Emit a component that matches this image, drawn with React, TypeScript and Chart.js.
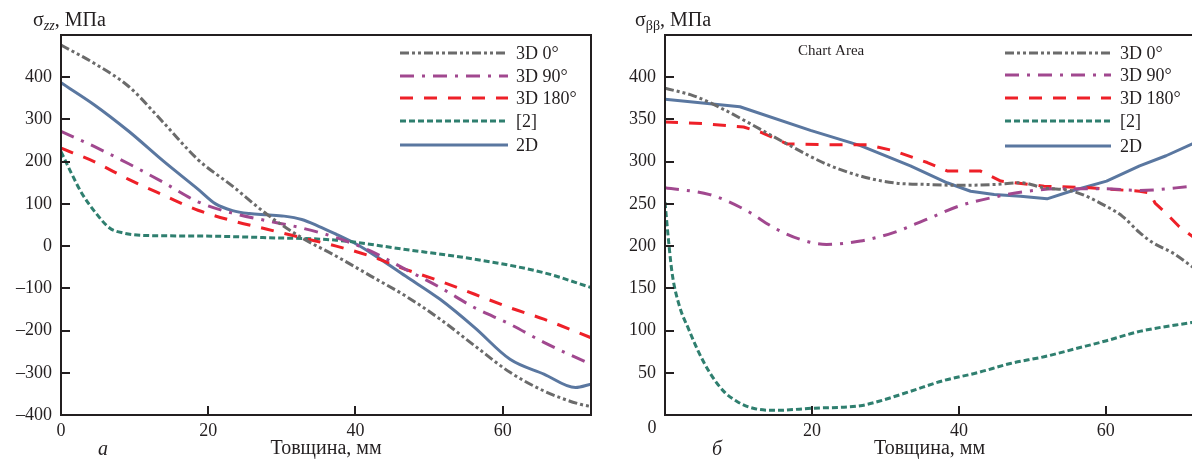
import React, { useEffect, useRef } from "react";
import { Chart, registerables } from "chart.js";

Chart.register(...registerables);

const FONT = '"Liberation Serif", "Times New Roman", serif';
const INK = "#231f20";

// ---- series meta ----
const SERIES_NAMES = ["3D 0°", "3D 90°", "3D 180°", "[2]", "2D"];
const SERIES_COLORS = ["#6b6b6b", "#a1488f", "#ee2028", "#2f7f6f", "#5a77a0"];
const SERIES_DASHES = [[9, 3, 3, 3, 3, 3], [14, 8, 3, 8], [13, 11], [6, 3], []];

// ---- chart а: σzz ----
const zz0X = [0, 4.5, 9.2, 14, 18.6, 23.3, 28, 32.7, 37.4, 42.1, 46.8, 51.5, 56.2, 61, 65.6, 70.4, 72];
const zz0Y = [476, 433, 378, 291, 205, 142, 75, 20, -24, -71, -118, -173, -236, -299, -343, -374, -380];
const zz90X = [0, 4.5, 9.2, 14, 18.6, 23.3, 28, 32.7, 37.4, 42.1, 46.8, 51.5, 56.2, 61, 65.6, 72];
const zz90Y = [272, 236, 195, 150, 105, 78, 60, 43, 20, -12, -55, -98, -146, -185, -228, -280];
const zz180X = [0, 4.5, 9.2, 14, 18.6, 23.3, 28, 32.7, 37.4, 42.1, 46.8, 51.5, 56.2, 61, 65.6, 72];
const zz180Y = [232, 200, 158, 120, 85, 60, 40, 20, 0, -24, -55, -83, -114, -146, -173, -217];
const zzRefX = [0, 1.4, 2.8, 4.7, 6.6, 8.5, 11.8, 18.6, 28, 37.4, 46.8, 56.2, 65.6, 72];
const zzRefY = [224, 173, 126, 79, 43, 31, 25, 24, 20, 14, -8, -31, -63, -98];
const zz2dX = [0, 4.5, 9.2, 14, 18.6, 21, 23.3, 25.6, 28, 30.3, 32.7, 35, 37.4, 39.8, 42.1, 46.8, 51.5, 56.2, 61, 65.6, 69.9, 72];
const zz2dY = [387, 335, 272, 200, 135, 100, 84, 77, 74, 71, 63, 47, 28, 8, -16, -71, -126, -193, -268, -303, -335, -327];

const zzXTicks = [0, 20, 40, 60];
const zzYMin = -400;
const zzYMax = 500;

// ---- chart б: σββ ----
const bb0X = [0, 3.9, 7.5, 11.6, 16.6, 22, 26.6, 31.1, 35.7, 40.2, 44.8, 48.4, 51.6, 55.5, 60.1, 62.3, 64.6, 66.4, 69.1, 72];
const bb0Y = [387, 378, 364, 345, 321, 297, 283, 275, 273, 272, 273, 275, 269, 265, 247, 235, 216, 204, 192, 174];
const bb90X = [0, 6.1, 10.7, 15.2, 18.4, 22, 26.6, 31.1, 35.7, 40.2, 44.8, 49.3, 53.9, 59.3, 64.6, 72];
const bb90Y = [269, 261, 244, 220, 208, 202, 206, 216, 232, 248, 258, 265, 268, 268, 266, 271];
const bb180X = [0, 5.2, 10.7, 13, 16.6, 22, 27.5, 31.1, 35.7, 38.4, 42.9, 45.7, 51.6, 57.8, 64.6, 66, 66.7, 68.2, 70, 72];
const bb180Y = [347, 345, 341, 335, 321, 320, 320, 313, 299, 289, 289, 277, 271, 269, 265, 263, 251, 239, 223, 210];
const bbRefX = [0, 0.5, 1, 2, 3.2, 4.5, 6.1, 8, 9.8, 12, 15, 20, 26.6, 29, 33.4, 38, 42.5, 47, 51.6, 56.1, 60.1, 64.6, 72];
const bbRefY = [252, 205, 166, 128, 102, 76, 50, 28, 16, 8, 5.5, 8, 11, 16, 28, 41, 50, 61, 69, 79, 88, 99, 110];
const bb2dX = [0, 10.2, 19.8, 26.6, 33.4, 38.4, 41.6, 44.8, 48.4, 52, 55.2, 60.1, 64.6, 68.2, 72];
const bb2dY = [374, 365, 337, 319, 295, 275, 265, 261, 259, 256, 265, 277, 295, 307, 322];

const bbXTicks = [0, 20, 40, 60];
const bbYMin = 0;
const bbYMax = 450;

const X_MIN = 0;
const X_MAX = 72;

function pts(xs: number[], ys: number[]) {
  return xs.map((x, i) => ({ x, y: ys[i] }));
}

function fmt(v: number) {
  return v < 0 ? "–" + Math.abs(v) : String(v);
}

type Deco = {
  legendX1: number;
  legendX2: number;
  legendTextX: number;
  legendRows: number[];
  titleX: number;
  titleSub: string;
  subItalic: boolean;
  letter: string;
  letterX: number;
  note?: { text: string; x: number; y: number };
  zeroLabelX?: number;
};

function makeDecoPlugin(d: Deco) {
  return {
    id: "deco",
    afterDraw(chart: any) {
      const ctx: CanvasRenderingContext2D = chart.ctx;
      const a = chart.chartArea;
      const xs = chart.scales.x;
      const ys = chart.scales.y;
      ctx.save();
      // inner tick marks
      ctx.strokeStyle = INK;
      ctx.lineWidth = 2;
      ctx.setLineDash([]);
      ys.ticks.forEach((t: any) => {
        if (t.value <= ys.min || t.value >= ys.max) return;
        const y = Math.round(ys.getPixelForValue(t.value));
        ctx.beginPath();
        ctx.moveTo(a.left, y);
        ctx.lineTo(a.left + 9, y);
        ctx.stroke();
      });
      xs.ticks.forEach((t: any) => {
        if (t.value <= xs.min || t.value >= xs.max) return;
        const x = Math.round(xs.getPixelForValue(t.value));
        ctx.beginPath();
        ctx.moveTo(x, a.bottom);
        ctx.lineTo(x, a.bottom - 9);
        ctx.stroke();
      });
      // frame
      ctx.strokeRect(a.left, a.top, a.right - a.left, a.bottom - a.top);

      // legend
      ctx.font = `18px ${FONT}`;
      ctx.fillStyle = INK;
      ctx.textBaseline = "middle";
      ctx.textAlign = "left";
      chart.data.datasets.forEach((ds: any, i: number) => {
        const y = d.legendRows[i];
        ctx.beginPath();
        ctx.strokeStyle = ds.borderColor;
        ctx.lineWidth = 3;
        ctx.setLineDash(ds.borderDash || []);
        ctx.moveTo(d.legendX1, y);
        ctx.lineTo(d.legendX2, y);
        ctx.stroke();
        ctx.setLineDash([]);
        ctx.fillText(ds.label, d.legendTextX, y + 1);
      });

      // y title with subscript
      ctx.textBaseline = "alphabetic";
      let x = d.titleX;
      const base = 26;
      ctx.font = `20px ${FONT}`;
      ctx.fillText("σ", x, base);
      x += ctx.measureText("σ").width;
      ctx.font = `${d.subItalic ? "italic " : ""}14px ${FONT}`;
      ctx.fillText(d.titleSub, x, base + 4);
      x += ctx.measureText(d.titleSub).width;
      ctx.font = `20px ${FONT}`;
      ctx.fillText(", МПа", x, base);

      // panel letter
      ctx.font = `italic 20px ${FONT}`;
      ctx.textAlign = "center";
      ctx.fillText(d.letter, d.letterX, 455);

      if (d.zeroLabelX !== undefined) {
        ctx.font = `18px ${FONT}`;
        ctx.textAlign = "center";
        ctx.textBaseline = "top";
        ctx.fillText("0", d.zeroLabelX, a.bottom + 4);
      }

      if (d.note) {
        ctx.font = `15px ${FONT}`;
        ctx.textAlign = "left";
        ctx.textBaseline = "middle";
        ctx.fillText(d.note.text, d.note.x, d.note.y);
      }
      ctx.restore();
    },
  };
}

function buildDatasets(series: { x: number[]; y: number[]; straight?: boolean }[]) {
  return series.map((s, i) => ({
    label: SERIES_NAMES[i],
    data: pts(s.x, s.y),
    borderColor: SERIES_COLORS[i],
    backgroundColor: SERIES_COLORS[i],
    borderDash: SERIES_DASHES[i],
    borderWidth: 3,
    borderJoinStyle: "round" as const,
    pointRadius: 0,
    fill: false,
    ...(s.straight ? { tension: 0 } : { cubicInterpolationMode: "monotone" as const }),
  }));
}

function makeConfig(opts: {
  series: { x: number[]; y: number[]; straight?: boolean }[];
  yMin: number;
  yMax: number;
  yStep: number;
  xTicks: number[];
  yWidth: number;
  padRight: number;
  hideZeroX: boolean;
  deco: Deco;
}): any {
  const tickFont = { family: FONT, size: 18 };
  return {
    type: "line",
    data: { datasets: buildDatasets(opts.series) },
    options: {
      responsive: false,
      animation: false,
      events: [],
      layout: { padding: { top: 35, right: opts.padRight, left: 0, bottom: 0 } },
      plugins: { legend: { display: false }, tooltip: { enabled: false } },
      scales: {
        x: {
          type: "linear",
          min: X_MIN,
          max: X_MAX,
          grid: { display: false, drawTicks: false },
          border: { display: false },
          afterBuildTicks: (s: any) => {
            s.ticks = opts.xTicks.map((v) => ({ value: v }));
          },
          ticks: {
            font: tickFont,
            color: INK,
            padding: 5,
            maxRotation: 0,
            autoSkip: false,
            callback: (v: number) => (opts.hideZeroX && v === 0 ? "" : fmt(v)),
          },
          title: {
            display: true,
            text: "Товщина, мм",
            font: { family: FONT, size: 20 },
            color: INK,
            padding: { top: 0, bottom: 1 },
          },
          afterFit: (s: any) => {
            s.height = 47;
          },
        },
        y: {
          type: "linear",
          min: opts.yMin,
          max: opts.yMax,
          grid: { display: false, drawTicks: false },
          border: { display: false },
          ticks: {
            stepSize: opts.yStep,
            font: tickFont,
            color: INK,
            padding: 9,
            callback: (v: number) => (v === opts.yMax || (opts.yMin === 0 && v === 0) ? "" : fmt(v)),
          },
          afterFit: (s: any) => {
            s.width = opts.yWidth;
          },
        },
      },
    },
    plugins: [makeDecoPlugin(opts.deco)],
  };
}

function ChartCanvas({ config, left, width }: { config: any; left: number; width: number }) {
  const ref = useRef<HTMLCanvasElement | null>(null);
  useEffect(() => {
    if (!ref.current) return;
    const chart = new Chart(ref.current, config);
    return () => chart.destroy();
  }, [config]);
  return (
    <canvas
      ref={ref}
      width={width}
      height={462}
      style={{ position: "absolute", left, top: 0, display: "block" }}
    />
  );
}

const leftConfig = makeConfig({
  series: [
    { x: zz0X, y: zz0Y },
    { x: zz90X, y: zz90Y },
    { x: zz180X, y: zz180Y },
    { x: zzRefX, y: zzRefY },
    { x: zz2dX, y: zz2dY },
  ],
  yMin: zzYMin,
  yMax: zzYMax,
  yStep: 100,
  xTicks: zzXTicks,
  yWidth: 61,
  padRight: 9,
  hideZeroX: false,
  deco: {
    legendX1: 400,
    legendX2: 508,
    legendTextX: 516,
    legendRows: [53, 76, 98, 121, 145],
    titleX: 33,
    titleSub: "zz",
    subItalic: true,
    letter: "а",
    letterX: 103,
  },
});

const rightConfig = makeConfig({
  series: [
    { x: bb0X, y: bb0Y },
    { x: bb90X, y: bb90Y },
    { x: bb180X, y: bb180Y, straight: true },
    { x: bbRefX, y: bbRefY },
    { x: bb2dX, y: bb2dY, straight: true },
  ],
  yMin: bbYMin,
  yMax: bbYMax,
  yStep: 50,
  xTicks: bbXTicks,
  yWidth: 65,
  padRight: 6,
  hideZeroX: true,
  deco: {
    legendX1: 405,
    legendX2: 511,
    legendTextX: 520,
    legendRows: [53, 75, 98, 121, 146],
    titleX: 35,
    titleSub: "ββ",
    subItalic: false,
    letter: "б",
    letterX: 117,
    note: { text: "Chart Area", x: 198, y: 51 },
    zeroLabelX: 52,
  },
});

export default function App() {
  return (
    <div
      style={{
        position: "absolute",
        left: 0,
        top: 0,
        width: 1192,
        height: 462,
        overflow: "hidden",
        background: "#ffffff",
      }}
    >
      <ChartCanvas config={leftConfig} left={0} width={600} />
      <ChartCanvas config={rightConfig} left={600} width={600} />
    </div>
  );
}
